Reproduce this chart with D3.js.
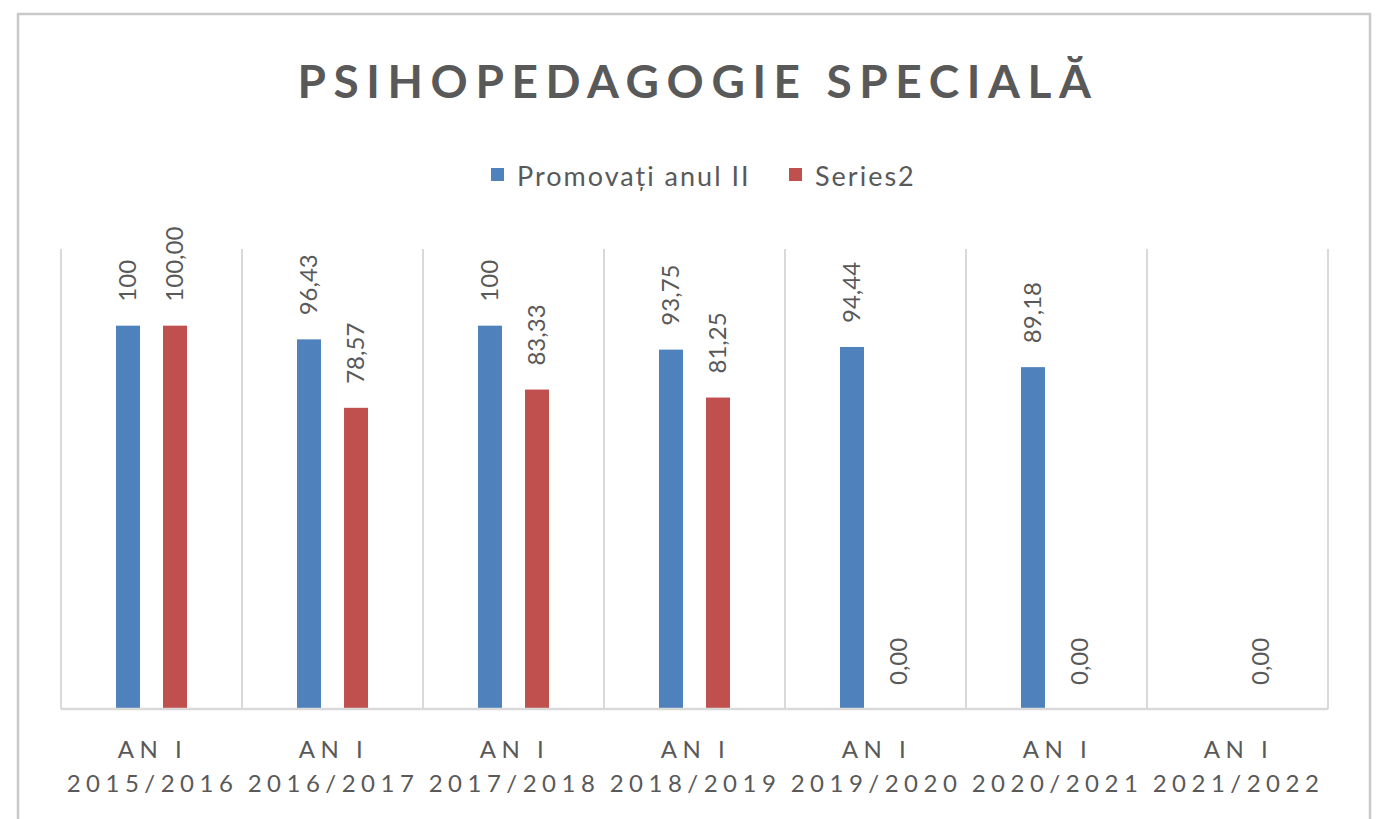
<!DOCTYPE html>
<html>
<head>
<meta charset="utf-8">
<script src="https://cdn.jsdelivr.net/npm/d3@7"></script>
<style>
  body { margin: 0; background: #fff; }
  text { font-family: Lato, "Open Sans", sans-serif; fill: #595959; }
</style>
</head>
<body>
<svg id="chart" width="1383" height="819"></svg>
<script>
// chart data
var categories = ["AN I|2015/2016", "AN I|2016/2017", "AN I|2017/2018", "AN I|2018/2019",
                  "AN I|2019/2020", "AN I|2020/2021", "AN I|2021/2022"];
var seriesNames = ["Promovați anul II", "Series2"];
var promovati = [100, 96.43, 100, 93.75, 94.44, 89.18, null];
var series2 = [100, 78.57, 83.33, 81.25, 0, 0, 0];
var yMax = 120;

var colors = ["#4f81bd", "#c0504d"];

var svg = d3.select("#chart");

// outer frame (bottom edge is cut off in the reference)
svg.append("rect")
    .attr("x", 18).attr("y", 14)
    .attr("width", 1352).attr("height", 830)
    .attr("fill", "#fff")
    .attr("stroke", "#c9c9c9")
    .attr("stroke-width", 2.5);

var plotLeft = 61, plotRight = 1328, plotTop = 249, plotBottom = 709;

var x0 = d3.scaleBand()
    .domain(d3.range(categories.length))
    .range([plotLeft, plotRight])
    .padding(0);

var x1 = d3.scaleBand()
    .domain([0, 1])
    .range([0, x0.bandwidth()])
    .paddingInner(0.49)
    .paddingOuter(1.17);

var y = d3.scaleLinear()
    .domain([0, yMax])
    .range([plotBottom, plotTop]);

// title
svg.append("text")
    .attr("x", 698)
    .attr("y", 98)
    .attr("text-anchor", "middle")
    .style("font-size", "46px")
    .style("font-weight", "bold")
    .style("letter-spacing", "7.6px")
    .text("PSIHOPEDAGOGIE SPECIALĂ");

// legend
var legendX = [491, 789];
seriesNames.forEach(function (name, i) {
    var g = svg.append("g").attr("transform", "translate(" + legendX[i] + ",168)");
    g.append("rect")
        .attr("width", 13).attr("height", 13)
        .attr("fill", colors[i]);
    g.append("text")
        .attr("x", 26).attr("y", 18)
        .style("font-size", "27px")
        .style("letter-spacing", "2px")
        .text(name);
});

// vertical category separators
var grid = svg.append("g");
d3.range(categories.length + 1).forEach(function (i) {
    var xx = i < categories.length ? x0(i) : plotRight;
    grid.append("line")
        .attr("x1", xx).attr("x2", xx)
        .attr("y1", plotTop).attr("y2", plotBottom)
        .attr("stroke", "#d9d9d9")
        .attr("stroke-width", 2);
});

// bars
var data = categories.map(function (c, i) {
    return { i: i, vals: [promovati[i], series2[i]] };
});

var groups = svg.selectAll("g.cat")
    .data(data)
    .enter()
    .append("g")
    .attr("class", "cat")
    .attr("transform", function (d) { return "translate(" + x0(d.i) + ",0)"; });

function pairs(d) {
    return d.vals.map(function (v, s) { return { s: s, v: v }; })
        .filter(function (e) { return e.v !== null; });
}

groups.selectAll("rect")
    .data(pairs)
    .enter()
    .append("rect")
    .attr("x", function (d) { return x1(d.s); })
    .attr("y", function (d) { return y(d.v); })
    .attr("width", x1.bandwidth())
    .attr("height", function (d) { return plotBottom - y(d.v); })
    .attr("fill", function (d) { return colors[d.s]; });

// value labels (rotated)
function fmt(d) {
    if (d.s === 0 && d.v === 100) return "100";
    return d.v.toFixed(2).replace(".", ",");
}

groups.selectAll("text.val")
    .data(pairs)
    .enter()
    .append("text")
    .attr("class", "val")
    .attr("transform", function (d) {
        var cx = x1(d.s) + x1.bandwidth() / 2 + 8;
        return "translate(" + cx + "," + (y(d.v) - 24) + ") rotate(-90)";
    })
    .style("font-size", "24px")
    .text(fmt);

// x axis line
svg.append("line")
    .attr("x1", plotLeft).attr("x2", plotRight)
    .attr("y1", plotBottom).attr("y2", plotBottom)
    .attr("stroke", "#d9d9d9")
    .attr("stroke-width", 2.5);

// category labels
categories.forEach(function (c, i) {
    var parts = c.split("|");
    var cx = x0(i) + x0.bandwidth() / 2;
    var t = svg.append("text")
        .attr("text-anchor", "middle")
        .style("font-size", "24px")
        .style("letter-spacing", "5.5px");
    t.append("tspan").attr("x", cx + 1).attr("y", 758).text(parts[0]);
    t.append("tspan").attr("x", cx + 1).attr("y", 792).text(parts[1]);
});
</script>
</body>
</html>
